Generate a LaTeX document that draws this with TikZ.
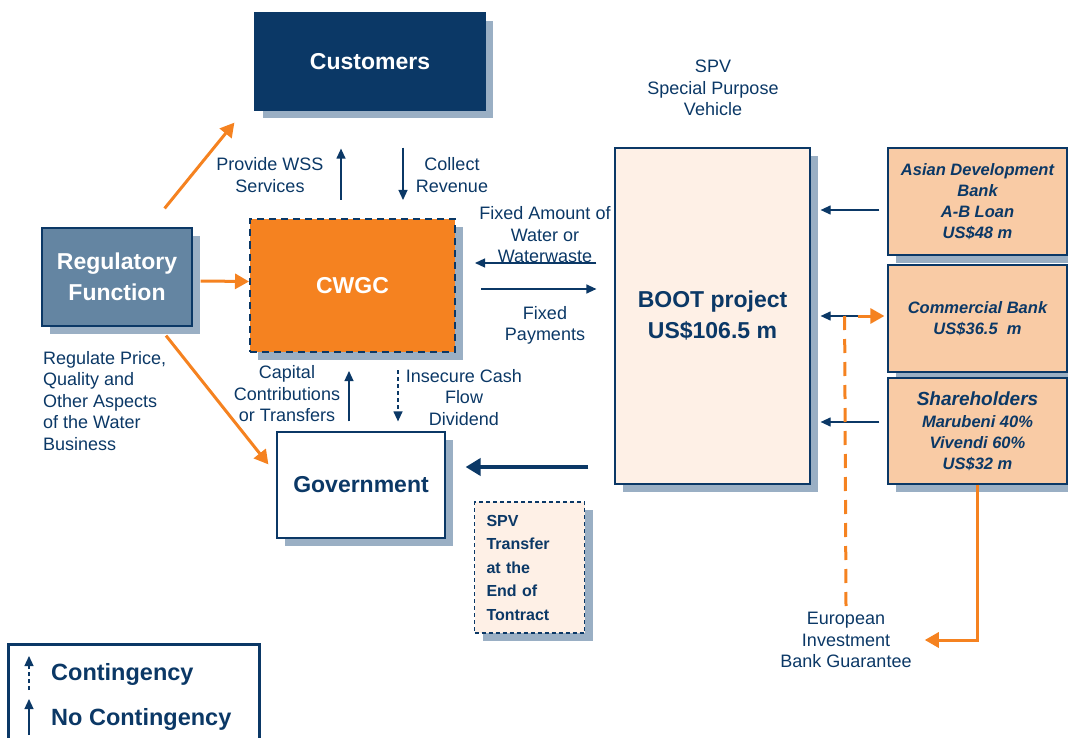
\documentclass[tikz,border=0pt]{standalone}
\usepackage{fontspec}
\setmainfont{Liberation Sans}
\usetikzlibrary{arrows.meta, shadows}
\definecolor{navy}{HTML}{0B3866}
\definecolor{wgorange}{HTML}{F58220}
\definecolor{shade}{HTML}{9AAFC4}
\definecolor{steel}{HTML}{6485A2}
\definecolor{peach}{HTML}{F9CBA5}
\definecolor{cream}{HTML}{FEF0E6}
\tikzset{
    panel/.style={rectangle, draw=navy, line width=1.2pt, inner sep=0pt, align=center, text=navy,
        drop shadow={shadow xshift=8pt, shadow yshift=-8pt, fill=shade, opacity=1}},
    bigtext/.style={font=\fontsize{23}{31}\selectfont\bfseries},
    bank/.style={panel, fill=peach, minimum width=179pt, font=\fontsize{16.5}{21}\selectfont\bfseries\itshape},
    lbl/.style={text=navy, align=center, inner sep=0pt, font=\fontsize{18}{21.5}\selectfont},
    legendtext/.style={text=navy, inner sep=0pt, anchor=west, font=\fontsize{23.5}{26}\selectfont\bfseries},
    flow/.style={draw=navy, line width=1.2pt, -{Triangle[length=10pt,width=9pt]}},
    contflow/.style={flow, dash pattern=on 4pt off 3pt},
    heavyflow/.style={draw=navy, line width=4pt, -{Triangle[length=15pt,width=17pt]}},
    orangeflow/.style={draw=wgorange, line width=3pt, -{Triangle[length=14pt,width=15pt]}},
    orangedash/.style={draw=wgorange, line width=3pt, dash pattern=on 14pt off 9pt},
}
\begin{document}
\begin{tikzpicture}[x=1pt, y=-1pt]
    \useasboundingbox (0,0) rectangle (1068,738);
    % parties
    \node[panel, fill=navy, text=white, bigtext, minimum width=230pt, minimum height=97pt] (cust) at (370,61.5) {Customers};
    \node[panel, fill=wgorange, text=white, bigtext, line width=2pt, dash pattern=on 7pt off 5pt, minimum width=205pt, minimum height=132pt] (cwgc) at (352.5,285.5) {CWGC};
    \node[panel, fill=steel, text=white, bigtext, minimum width=150pt, minimum height=98pt] (reg) at (117,277) {Regulatory\\Function};
    \node[panel, fill=white, bigtext, minimum width=168pt, minimum height=106pt] (gov) at (361,485) {Government};
    \node[panel, fill=cream, dash pattern=on 4pt off 3pt, line width=1.5pt, text width=86pt, inner xsep=12pt, align=left, minimum height=131pt, font=\fontsize{16}{23.5}\selectfont\bfseries] (spvt) at (529.5,567.5) {SPV\\Transfer\\at the\\End of\\Tontract};
    \node[panel, fill=cream, bigtext, minimum width=195pt, minimum height=336pt] (boot) at (712.5,316) {BOOT project\\US\$106.5 m};
    \node[bank, minimum height=107pt] (adb) at (977.5,201.5) {Asian Development\\Bank\\A-B Loan\\US\$48 m};
    \node[bank, minimum height=107pt] (cbank) at (977.5,318.5) {Commercial Bank\\US\$36.5~~m};
    \node[bank, minimum height=106pt] (share) at (977.5,431) {{\fontsize{19}{21}\selectfont Shareholders}\\[1pt]Marubeni 40\%\\Vivendi 60\%\\US\$32 m};

    % labels
    \node[lbl] (wss) at (270,175) {Provide WSS\\Services};
    \node[lbl] (rev) at (452,175) {Collect\\Revenue};
    \node[lbl] (water) at (545,235) {Fixed Amount of\\Water or\\Waterwaste};
    \node[lbl] (pay) at (545,325.5) {Fixed\\Payments};
    \node[lbl] (spv) at (713,88) {SPV\\Special Purpose\\Vehicle};
    \node[lbl, align=left, anchor=west] (regtxt) at (43,401) {Regulate Price,\\Quality and\\Other Aspects\\of the Water\\Business};
    \node[lbl] (capital) at (287,394) {Capital\\Contributions\\or Transfers};
    \node[lbl] (cash) at (464,397.5) {Insecure Cash\\Flow\\Dividend};
    \node[lbl] (eib) at (846,640) {European\\Investment\\Bank Guarantee};

    % connectors
    \draw[orangeflow] ([xshift=-28pt,yshift=19pt]reg.north east) -- ([xshift=-20pt,yshift=-12pt]cust.south west);
    \draw[orangeflow] ([xshift=8pt,yshift=-4pt]reg.east) -- ([yshift=4pt]cwgc.west);
    \draw[orangeflow] ([xshift=49pt,yshift=-9pt]reg.south) -- ([xshift=-8pt,yshift=-33pt]gov.north west);
    \draw[flow] ([xshift=-11.5pt,yshift=18.5pt]cwgc.north) -- ([xshift=-29pt,yshift=-38pt]cust.south);
    \draw[flow] ([xshift=33pt,yshift=-37pt]cust.south) -- ([xshift=50.5pt,yshift=18.5pt]cwgc.north);
    \draw[flow] ([xshift=-12pt,yshift=10pt]gov.north) -- ([xshift=-3.5pt,yshift=-18.5pt]cwgc.south);
    \draw[contflow] ([xshift=45.5pt,yshift=-17.5pt]cwgc.south) -- ([xshift=37pt,yshift=10pt]gov.north);
    \draw[flow] ([xshift=-18pt,yshift=53pt]boot.west) -- ([xshift=19pt,yshift=22.5pt]cwgc.east);
    \draw[flow] ([xshift=25pt,yshift=-3.5pt]cwgc.east) -- ([xshift=-18pt,yshift=27pt]boot.west);
    \draw[heavyflow] ([xshift=-26pt,yshift=-151pt]boot.west) -- ([xshift=20pt,yshift=18pt]gov.east);
    \draw[flow] ([xshift=-8pt,yshift=-8.5pt]adb.west) -- ([xshift=10pt,yshift=106pt]boot.east);
    \draw[flow] ([xshift=-8pt,yshift=2.5pt]cbank.west) -- ([xshift=10pt]boot.east);
    \draw[flow] ([xshift=-8pt,yshift=9pt]share.west) -- ([xshift=10pt,yshift=-106pt]boot.east);
    \draw[orangedash] ([xshift=34pt]boot.east) -- ([yshift=6pt]eib.north);
    \draw[orangeflow] ([xshift=47pt]boot.east) -- ([xshift=-3pt,yshift=2.5pt]cbank.west);
    \draw[orangeflow] (share.south) |- ([xshift=13pt]eib.east);

    % legend
    \node[draw=navy, line width=3pt, minimum width=251pt, minimum height=120pt, inner sep=0pt] (legend) at (133.5,704) {};
    \node[legendtext] (cont) at (51,674) {Contingency};
    \node[legendtext] (nocont) at (51,719) {No Contingency};
    \draw[contflow] ([xshift=-22pt,yshift=-16pt]cont.west) -- ([xshift=-22pt,yshift=18pt]cont.west);
    \draw[flow] ([xshift=-22pt,yshift=-16pt]nocont.west) -- ([xshift=-22pt,yshift=20pt]nocont.west);
\end{tikzpicture}
\end{document}
